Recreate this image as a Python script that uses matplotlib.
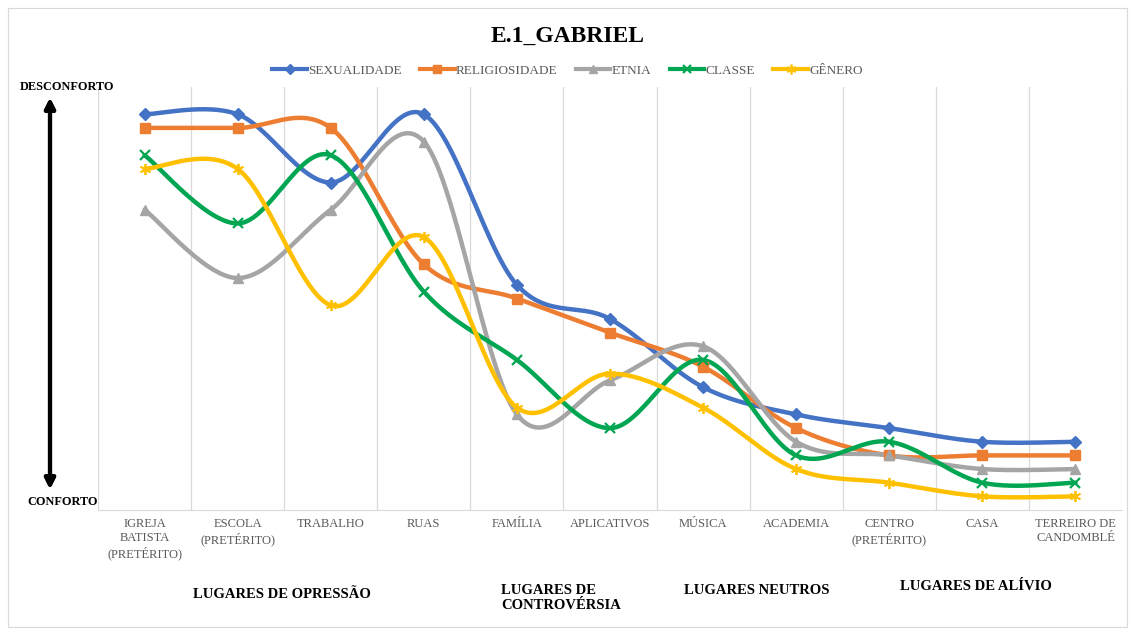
import matplotlib.pyplot as plt
import numpy as np
from matplotlib.patches import Rectangle
from matplotlib.lines import Line2D

plt.rcParams['font.family'] = ['Liberation Serif', 'DejaVu Serif']

lugares = ["IGREJA\nBATISTA\n(PRETÉRITO)", "ESCOLA\n(PRETÉRITO)", "TRABALHO", "RUAS",
           "FAMÍLIA", "APLICATIVOS", "MÚSICA", "ACADEMIA", "CENTRO\n(PRETÉRITO)",
           "CASA", "TERREIRO DE\nCANDOMBLÉ"]

sexualidade = [29, 29, 24, 29, 16.5, 14, 9, 7, 6, 5, 5]
religiosidade = [28, 28, 28, 18, 15.5, 13, 10.5, 6, 4, 4, 4]
etnia = [22, 17, 22, 27, 7, 9.5, 12, 5, 4, 3, 3]
classe = [26, 21, 26, 16, 11, 6, 11, 4, 5, 2, 2]
genero = [25, 25, 15, 20, 7.5, 10, 7.5, 3, 2, 1, 1]

series = [
    ("SEXUALIDADE", sexualidade, "#4472C4", "D", 6, 1),
    ("RELIGIOSIDADE", religiosidade, "#ED7D31", "s", 7, 1),
    ("ETNIA", etnia, "#A5A5A5", "^", 7, 1),
    ("CLASSE", classe, "#00A651", "x", 7, 1.6),
    ("GÊNERO", genero, "#FFC000", (6, 2, 0), 8, 1.3),
]


def smooth(y, n=30):
    # Catmull-Rom style bezier smoothing, like Excel's smoothed line
    y = np.asarray(y, dtype=float)
    x = np.arange(len(y), dtype=float)
    pts = np.column_stack((x, y))
    pad = np.vstack((pts[0], pts, pts[-1]))
    out = []
    t = np.linspace(0, 1, n)[:, None]
    for i in range(len(pts) - 1):
        p0, p3 = pad[i + 1], pad[i + 2]
        c1 = p0 + (pad[i + 2] - pad[i]) / 6
        c2 = p3 - (pad[i + 3] - pad[i + 1]) / 6
        seg = ((1 - t) ** 3) * p0 + 3 * ((1 - t) ** 2) * t * c1 + 3 * (1 - t) * t ** 2 * c2 + t ** 3 * p3
        out.append(seg if i == 0 else seg[1:])
    out = np.vstack(out)
    return out[:, 0], out[:, 1]


fig = plt.figure(figsize=(11.35, 6.35), dpi=100)
ax = fig.add_axes([98 / 1135, 1 - 510 / 635, 1024 / 1135, 423 / 635])

for b in np.arange(-0.5, 11, 1):
    ax.axvline(b, color="#D9D9D9", lw=0.9, zorder=0)

handles = []
for name, vals, color, marker, ms, mew in series:
    sx, sy = smooth(vals)
    ax.plot(sx, sy, color=color, lw=3.2, solid_capstyle="round", zorder=2)
    ax.plot(range(len(vals)), vals, ls="none", marker=marker, ms=ms, color=color,
            mec=color, mew=mew, zorder=3)
    handles.append(Line2D([0], [0], color=color, lw=3, marker=marker, ms=ms - 1, mec=color, mew=mew))

ax.set_xlim(-0.5, 10.5)
ax.set_ylim(0, 31)
ax.set_yticks([])
ax.set_xticks(range(len(lugares)))
ax.set_xticklabels(lugares, fontsize=9, color="#595959", linespacing=1.2)
ax.tick_params(axis="x", length=0, pad=6)
for s in ["top", "right", "left"]:
    ax.spines[s].set_visible(False)
ax.spines["bottom"].set_color("#D9D9D9")

fig.text(0.5, 1 - 36 / 635, "E.1_GABRIEL", ha="center", va="center", fontsize=17, fontweight="bold")
fig.legend(handles, [s[0] for s in series], loc="center", bbox_to_anchor=(0.5, 1 - 71 / 635), ncol=5,
           frameon=False, fontsize=9.5, handlelength=2.6, handletextpad=0.1, columnspacing=1.4,
           labelcolor="#595959")

fig.text(20 / 1135, 1 - 87 / 635, "DESCONFORTO", ha="left", va="center", fontsize=8.8, fontweight="bold")
fig.text(27 / 1135, 1 - 502 / 635, "CONFORTO", ha="left", va="center", fontsize=8.8, fontweight="bold")
fig.add_artist(plt.annotate("", xy=(50 / 1135, 1 - 95 / 635), xytext=(50 / 1135, 1 - 492 / 635),
                            xycoords="figure fraction", textcoords="figure fraction",
                            arrowprops=dict(arrowstyle="<|-|>", color="black", lw=3, mutation_scale=15)))

groups = [("LUGARES DE OPRESSÃO", 193, 595), ("LUGARES DE\nCONTROVÉRSIA", 501, 598),
          ("LUGARES NEUTROS", 684, 590), ("LUGARES DE ALÍVIO", 900, 587)]
for txt, gx, gy in groups:
    fig.text(gx / 1135, 1 - gy / 635, txt, ha="left", va="center", fontsize=10.5, fontweight="bold",
             linespacing=1.15)

fig.add_artist(Rectangle((8 / 1135, 8 / 635), 1119 / 1135, 619 / 635, transform=fig.transFigure,
                         fill=False, edgecolor="#D9D9D9", lw=0.8))

fig.savefig("out.png", dpi=100)
